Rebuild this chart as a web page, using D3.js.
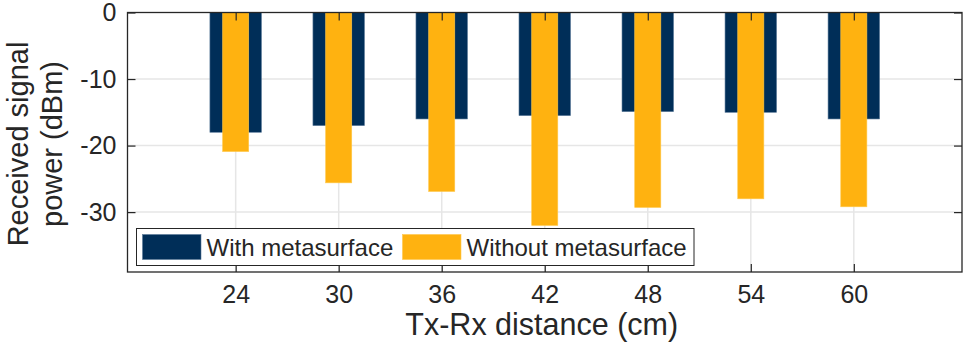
<!DOCTYPE html>
<html>
<head>
<meta charset="utf-8">
<script src="https://cdn.jsdelivr.net/npm/d3@7"></script>
<style>
  body { margin: 0; background: #fff; }
  text { font-family: "Liberation Sans", Arial, Helvetica, sans-serif; fill: #262626; }
</style>
</head>
<body>
<svg width="969" height="356"></svg>
<script>
// data
var distances = [24, 30, 36, 42, 48, 54, 60];
var withMeta = [-18, -17, -16, -15.5, -14.9, -15, -16];
var withoutMeta = [-20.9, -25.6, -26.9, -32, -29.3, -28, -29.2];
var yTicks = [0, -10, -20, -30];
var seriesNames = ["With metasurface", "Without metasurface"];
var colors = ["#002E58", "#FFB210"];

var svg = d3.select("svg"),
    pLeft = 127.5, pRight = 962, pTop = 12.5, pBottom = 272;

var x = d3.scaleLinear().domain([17.7, 66.3]).range([pLeft, pRight]);
var y = d3.scaleLinear().domain([0, -39]).range([pTop, pBottom]);

// grid
svg.append("g").selectAll("line").data(yTicks.slice(1)).enter().append("line")
   .attr("x1", pLeft).attr("x2", pRight)
   .attr("y1", function(d) { return y(d); }).attr("y2", function(d) { return y(d); })
   .attr("stroke", "#e6e6e6").attr("stroke-width", 1.5);
svg.append("g").selectAll("line").data(distances).enter().append("line")
   .attr("x1", function(d) { return x(d); }).attr("x2", function(d) { return x(d); })
   .attr("y1", pTop).attr("y2", pBottom)
   .attr("stroke", "#e6e6e6").attr("stroke-width", 1.5);

// wide bars (with metasurface)
svg.append("g").selectAll("rect").data(distances).enter().append("rect")
   .attr("x", function(d) { return x(d - 1.5); })
   .attr("width", function(d) { return x(d + 1.5) - x(d - 1.5); })
   .attr("y", y(0))
   .attr("height", function(d, i) { return y(withMeta[i]) - y(0); })
   .attr("fill", colors[0])
   .attr("stroke", "#5a7a99").attr("stroke-width", 0.6);

// narrow bars (without metasurface) on top
svg.append("g").selectAll("rect").data(distances).enter().append("rect")
   .attr("x", function(d) { return x(d - 0.76); })
   .attr("width", function(d) { return x(d + 0.76) - x(d - 0.76); })
   .attr("y", y(0))
   .attr("height", function(d, i) { return y(withoutMeta[i]) - y(0); })
   .attr("fill", colors[1])
   .attr("stroke", "#ffc94d").attr("stroke-width", 0.6);

// axes: ticks inward, box
var tl = 8;
var xb = svg.append("g").attr("transform", "translate(0," + pBottom + ")")
   .call(d3.axisBottom(x).tickValues(distances).tickSize(-tl).tickPadding(20));
var xt = svg.append("g").attr("transform", "translate(0," + pTop + ")")
   .call(d3.axisTop(x).tickValues(distances).tickSize(-tl).tickFormat(""));
var yl = svg.append("g").attr("transform", "translate(" + pLeft + ",0)")
   .call(d3.axisLeft(y).tickValues(yTicks).tickSize(-tl).tickPadding(11)
   .tickFormat(function(d) { return d; }));
var yr = svg.append("g").attr("transform", "translate(" + pRight + ",0)")
   .call(d3.axisRight(y).tickValues(yTicks).tickSize(-tl).tickFormat(""));

svg.selectAll(".domain").remove();
svg.selectAll(".tick line").attr("stroke", "#262626").attr("stroke-width", 1.2);
svg.selectAll(".tick text").attr("font-size", "25px").attr("fill", "#262626")
   .style("font-family", "'Liberation Sans', Arial, sans-serif");
xb.selectAll(".tick text").attr("dy", "0.42em");

svg.append("rect").attr("x", pLeft).attr("y", pTop)
   .attr("width", pRight - pLeft).attr("height", pBottom - pTop)
   .attr("fill", "none").attr("stroke", "#262626").attr("stroke-width", 1.3);

// axis labels
svg.append("text").text("Tx-Rx distance (cm)")
   .attr("x", (pLeft + pRight) / 2 - 3).attr("y", 335)
   .attr("text-anchor", "middle").attr("font-size", "30.5px");

var ylab = svg.append("text")
   .attr("transform", "translate(28,144) rotate(-90)")
   .attr("text-anchor", "middle").attr("font-size", "29px");
ylab.append("tspan").attr("x", 0).attr("dy", 0).text("Received signal");
ylab.append("tspan").attr("x", 0).attr("dy", 34).text("power (dBm)");

// legend
var leg = svg.append("g");
leg.append("rect").attr("x", 136.5).attr("y", 228.5).attr("width", 557.5).attr("height", 37)
   .attr("fill", "#fff").attr("stroke", "#262626").attr("stroke-width", 1);
var legX = [142.5, 402.5];
seriesNames.forEach(function(name, i) {
  leg.append("rect").attr("x", legX[i]).attr("y", 234.5).attr("width", 58.5).attr("height", 25)
     .attr("fill", colors[i]).attr("stroke", i === 0 ? "#5a7a99" : "#ffc94d").attr("stroke-width", 0.6);
  leg.append("text").text(name).attr("x", legX[i] + 64).attr("y", 256)
     .attr("font-size", "24px").attr("fill", "#000");
});
</script>
</body>
</html>
